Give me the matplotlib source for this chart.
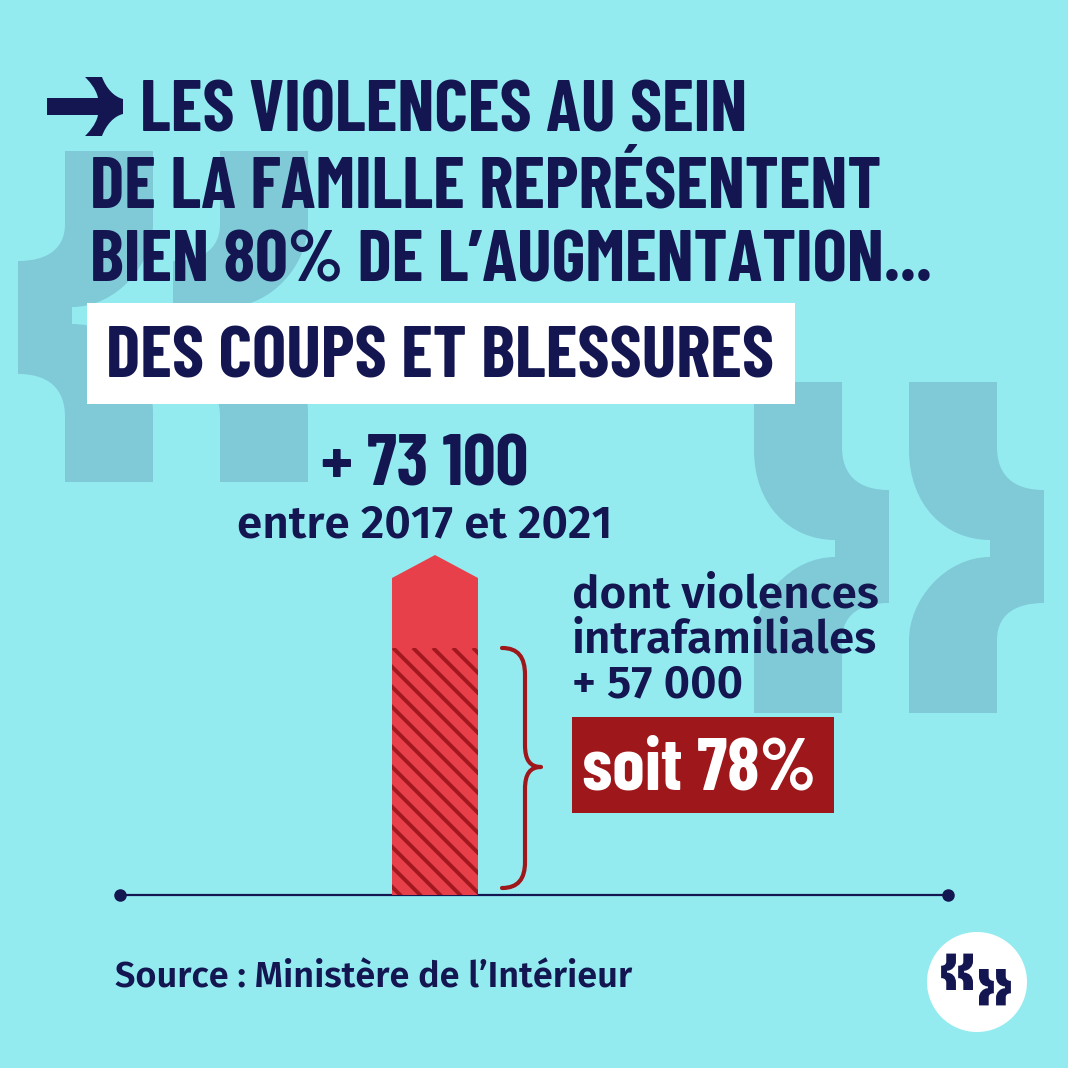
import numpy as np
import matplotlib
matplotlib.use("Agg")
import matplotlib.pyplot as plt
from matplotlib.path import Path
from matplotlib.patches import PathPatch, Rectangle, Polygon, Circle

# data
total_increase = 73100        # coups et blessures, 2017 -> 2021
intrafamilial = 57000         # dont violences intrafamiliales
share_label = "soit 78%"
title_lines = ["LES VIOLENCES AU SEIN",
               "DE LA FAMILLE REPRÉSENTENT",
               "BIEN 80% DE L’AUGMENTATION..."]
highlight = "DES COUPS ET BLESSURES"
total_label = "+ 73 100"
period_label = "entre 2017 et 2021"
detail_lines = ["dont violences", "intrafamiliales", "+ 57 000"]
source = "Source : Ministère de l’Intérieur"

# colours
bg = "#93EBF0"
quote_col = "#80CAD7"
navy = "#131650"
red = "#E8404A"
darkred = "#9E171B"
hatch_col = "#A3181F"

cond = ["Barlow Condensed", "Roboto Condensed", "DejaVu Sans"]
body = ["Fira Sans", "Barlow", "Roboto", "DejaVu Sans"]

W = 1068
fig = plt.figure(figsize=(10.68, 10.68), dpi=100)
fig.patch.set_facecolor(bg)

deco = fig.add_axes([0, 0, 1, 1])
deco.set_xlim(0, W)
deco.set_ylim(W, 0)
deco.axis("off")
deco.set_zorder(0)


def glyph(x0, y0, s=1.0, flip=False, K=0.0, L=0.0):
    # closing quote glyph, local pixel units (y down)
    pts = [(0, 0), (88, 0), (88, 65), (88, 93), (104, 108), (135, 108),
           (135, 221), (106, 221), (88, 233), (88, 258), (88, 331),
           (0, 331), (0, 258), (0, 218), (36, 175), (81, 175),
           (81, 158), (36, 158), (0, 123), (0, 68), (0, 0)]
    codes = [Path.MOVETO, Path.LINETO, Path.LINETO, Path.CURVE4, Path.CURVE4, Path.CURVE4,
             Path.LINETO, Path.CURVE4, Path.CURVE4, Path.CURVE4, Path.LINETO,
             Path.LINETO, Path.LINETO, Path.CURVE4, Path.CURVE4, Path.CURVE4,
             Path.LINETO, Path.CURVE4, Path.CURVE4, Path.CURVE4, Path.CLOSEPOLY]
    v = np.array(pts, float) * s + [x0, y0]
    if flip:
        v = np.column_stack([K - v[:, 0], L - v[:, 1]])
    return Path(v, codes)


# big background quotes
for dx in (0, 155):
    deco.add_patch(PathPatch(glyph(754 + dx, 382), fc=quote_col, ec="none", zorder=0))
    deco.add_patch(PathPatch(glyph(754 + dx, 382, flip=True, K=1062, L=864),
                             fc=quote_col, ec="none", zorder=0))

# title arrow
arrow_v = [(47, 98), (98, 98), (96, 88), (88, 80), (85, 77), (102, 77), (106, 88), (114, 97),
           (123, 99), (123, 114), (114, 116), (106, 125), (102, 136), (85, 136), (88, 133),
           (96, 125), (98, 115), (47, 115), (47, 98)]
arrow_c = [Path.MOVETO, Path.LINETO, Path.CURVE4, Path.CURVE4, Path.CURVE4, Path.LINETO,
           Path.CURVE4, Path.CURVE4, Path.CURVE4, Path.LINETO, Path.CURVE4, Path.CURVE4,
           Path.CURVE4, Path.LINETO, Path.CURVE4, Path.CURVE4, Path.CURVE4, Path.LINETO,
           Path.CLOSEPOLY]
deco.add_patch(PathPatch(Path(arrow_v, arrow_c), fc=navy, ec="none", zorder=3))

# title
title_kw = dict(family=cond, weight="bold", fontsize=52, color=navy, va="baseline", zorder=4)
deco.text(140, 132, title_lines[0], **title_kw)
deco.text(90, 207, title_lines[1], **title_kw)
deco.text(90, 282, title_lines[2], **title_kw)

deco.add_patch(Rectangle((87, 303), 708, 101, fc="white", ec="none", zorder=3))
deco.text(106, 378, highlight, **title_kw)

# figures above the bar
deco.text(425, 485, total_label, family=cond, weight="bold", fontsize=52,
          color=navy, ha="center", va="baseline", zorder=4)
deco.text(425, 537, period_label, family=body, weight="semibold", fontsize=33,
          color=navy, ha="center", va="baseline", zorder=4)

# bar axes: y = 0 sits on the baseline (895 px), 73 100 at 578 px
base_px, top_px = 895, 578
ymax = 80000
ax_h = ymax * (base_px - top_px) / total_increase
ax = fig.add_axes([392 / W, (W - base_px) / W, 86 / W, ax_h / W])
ax.set_xlim(-0.5, 0.5)
ax.set_ylim(0, ymax)
ax.axis("off")
ax.patch.set_alpha(0)
ax.set_zorder(2)

ax.bar([0], [total_increase], width=1.0, color=red, linewidth=0)
tip = 23 * total_increase / (base_px - top_px)
ax.add_patch(Polygon([(-0.5, total_increase), (0, total_increase + tip), (0.5, total_increase)],
                     closed=True, fc=red, ec="none", clip_on=False))
inner = ax.bar([0], [intrafamilial], width=1.0, color=red, linewidth=0)[0]

# diagonal stripes on the intrafamilial part (drawn in pixel space, clipped to the bar)
hatch_top = base_px - intrafamilial * (base_px - top_px) / total_increase
for x0 in np.arange(393 - 300, 480, 20):
    ln, = ax.plot([x0, x0 + 300], [hatch_top, hatch_top + 300], color=hatch_col,
                  lw=2.8, solid_capstyle="butt", zorder=5, transform=deco.transData)
    ln.set_clip_path(inner)

# curly brace
bv = [(502, 648), (518, 648), (525, 657), (525, 675), (525, 745), (525, 760), (530, 767),
      (541, 767), (530, 767), (525, 774), (525, 789), (525, 862), (525, 879), (518, 888),
      (502, 888)]
bc = [Path.MOVETO, Path.CURVE4, Path.CURVE4, Path.CURVE4, Path.LINETO, Path.CURVE4,
      Path.CURVE4, Path.CURVE4, Path.CURVE4, Path.CURVE4, Path.CURVE4, Path.LINETO,
      Path.CURVE4, Path.CURVE4, Path.CURVE4]
deco.add_patch(PathPatch(Path(bv, bc), fc="none", ec=darkred, lw=3.0,
                         capstyle="round", joinstyle="round", zorder=4))

# baseline
deco.plot([120, 948], [895, 895], color=navy, lw=1.6, zorder=6)
deco.plot([120, 948], [895, 895], "o", color=navy, ms=8, zorder=6)

# detail text
for i, t in enumerate(detail_lines):
    deco.text(572, 608 + i * 44.5, t, family=body, weight="semibold", fontsize=33,
              color=navy, va="baseline", zorder=4)

deco.add_patch(Rectangle((572, 717), 262, 96, fc=darkred, ec="none", zorder=3))
deco.text(699, 790, share_label, family=cond, weight="bold", fontsize=53,
          color="white", ha="center", va="baseline", zorder=4)

# source
deco.text(115, 988, source, family=body, weight="semibold", fontsize=26,
          color=navy, va="baseline", zorder=4)

# logo
deco.add_patch(Circle((977, 982), 50, fc="white", ec="none", zorder=3))
s = 0.11
for dx in (0, 155 * s):
    deco.add_patch(PathPatch(glyph(979 + dx, 969, s), fc=navy, ec="none", zorder=4))
    deco.add_patch(PathPatch(glyph(979 + dx, 969, s, flip=True, K=979 + 975 - 2, L=969 + 998 - 8),
                             fc=navy, ec="none", zorder=4))

fig.savefig("out.png", dpi=100, facecolor=bg)
